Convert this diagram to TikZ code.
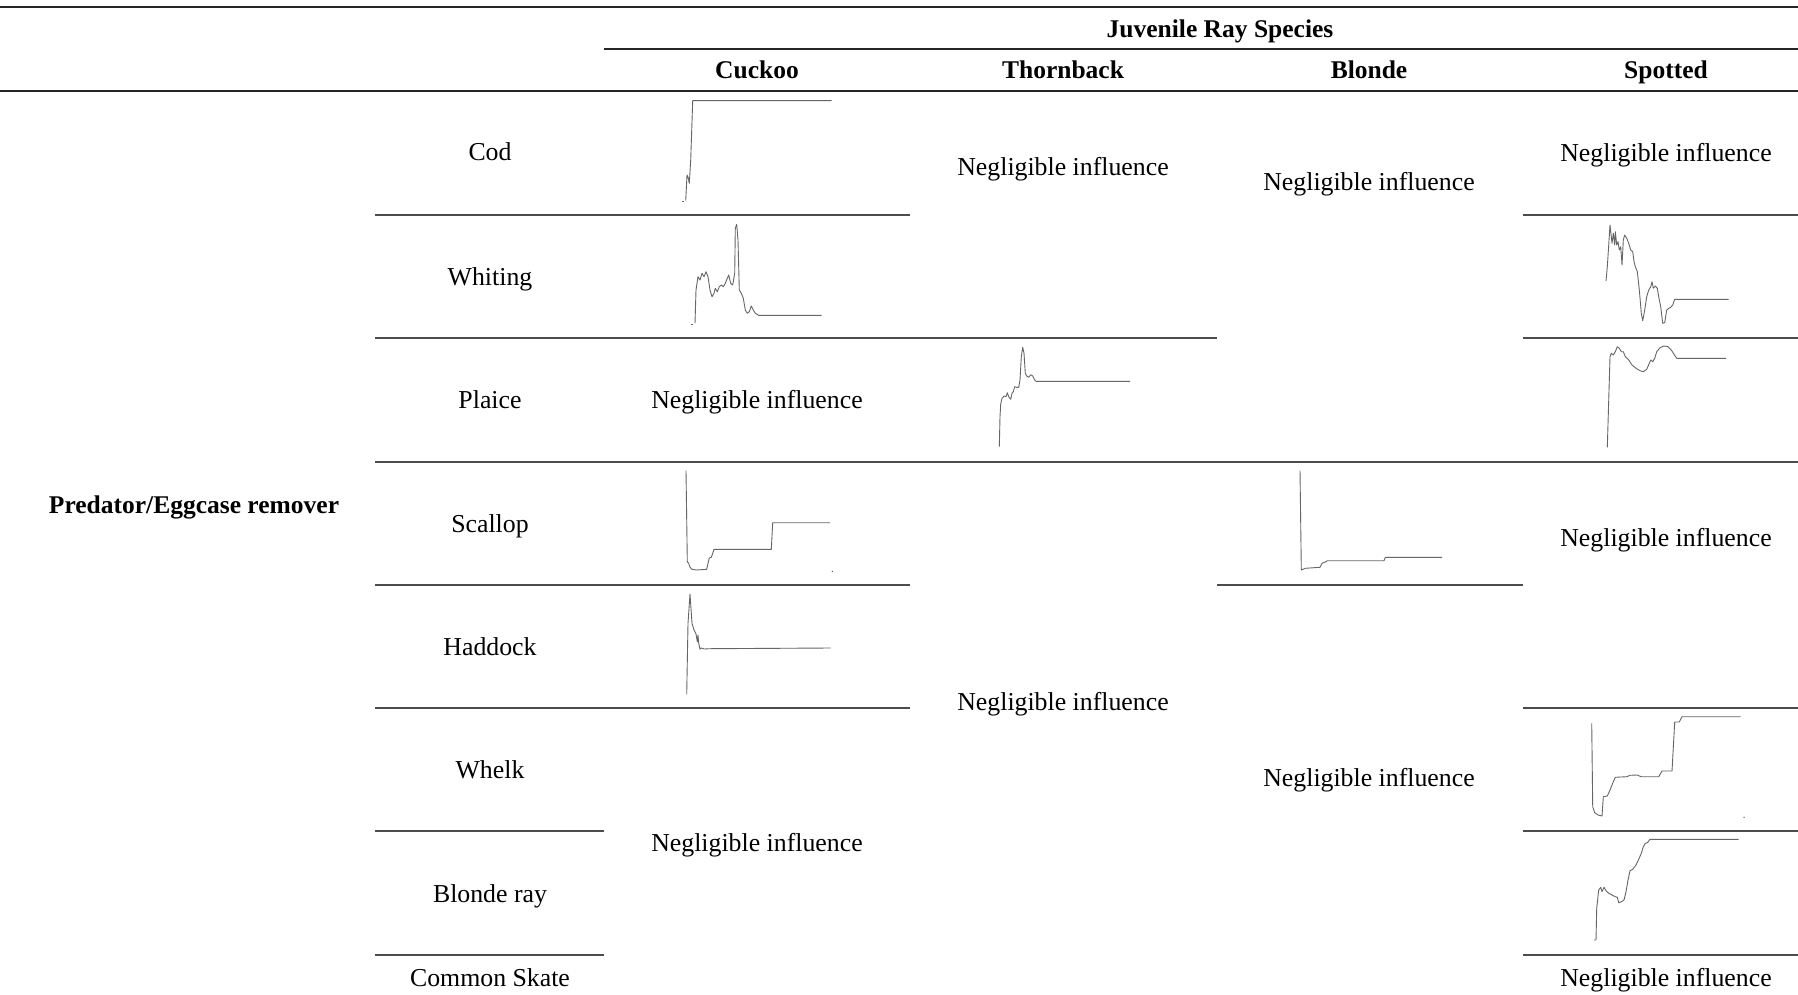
\documentclass[tikz,border=0pt]{standalone}
\usepackage{fontspec}
\setmainfont{Liberation Serif}
\begin{document}
\begin{tikzpicture}[x=1pt,y=-1pt,
  toprule/.style={line width=2.4pt,draw=black!85},
  midrule/.style={line width=1.4pt,draw=black!85},
  rowline/.style={line width=1.3pt,draw=black!70},
  plotline/.style={line width=0.9pt,draw=black!60,line join=round},
  txt/.style={font=\fontsize{25.8}{28}\selectfont,inner sep=0pt,anchor=center,text height=18pt,text depth=6pt,yshift=-3pt},
  hdr/.style={font=\fontsize{25.5}{28}\selectfont\bfseries,inner sep=0pt,anchor=center,text height=18pt,text depth=6pt,yshift=-2.5pt}]
\useasboundingbox (0,0) rectangle (1798,995);
\fill[white] (0,0) rectangle (1798,995);
% rules
\draw[toprule] (0,7) -- (1798,7);
\draw[midrule] (604,49) -- (1798,49);
\draw[midrule] (0,91) -- (1798,91);
% row lines
\draw[rowline] (375,215) -- (910,215);   \draw[rowline] (1523,215) -- (1798,215);
\draw[rowline] (375,338) -- (1217,338);  \draw[rowline] (1523,338) -- (1798,338);
\draw[rowline] (375,462) -- (1798,462);
\draw[rowline] (375,585) -- (910,585);   \draw[rowline] (1217,585) -- (1523,585);
\draw[rowline] (375,708) -- (910,708);   \draw[rowline] (1523,708) -- (1798,708);
\draw[rowline] (375,831) -- (604,831);   \draw[rowline] (1523,831) -- (1798,831);
\draw[rowline] (375,955) -- (604,955);   \draw[rowline] (1523,955) -- (1798,955);
% headers
\node[hdr] (jrs) at (1220,29) {Juvenile Ray Species};
\node[hdr] (hcuc) at (757,70) {Cuckoo};
\node[hdr] (hthb) at (1063,70) {Thornback};
\node[hdr] (hblo) at (1369,70) {Blonde};
\node[hdr] (hspo) at (1666,70) {Spotted};
\node[hdr] (pred) at (194,505) {Predator/Eggcase remover};
% row labels
\node[txt] (rcod) at (490,152) {Cod};
\node[txt] (rwhi) at (490,276) {Whiting};
\node[txt] (rpla) at (490,399) {Plaice};
\node[txt] (rsca) at (490,523) {Scallop};
\node[txt] (rhad) at (490,646) {Haddock};
\node[txt] (rwhe) at (490,769) {Whelk};
\node[txt] (rblr) at (490,893) {Blonde ray};
\node[txt] (rcom) at (490,977) {Common Skate};
% negligible influence cells
\node[txt] (n1) at (1063,167) {Negligible influence};
\node[txt] (n2) at (1369,181) {Negligible influence};
\node[txt] (n3) at (1666,153) {Negligible influence};
\node[txt] (n4) at (757,399) {Negligible influence};
\node[txt] (n5) at (1666,537) {Negligible influence};
\node[txt] (n6) at (1063,701) {Negligible influence};
\node[txt] (n7) at (1369,777) {Negligible influence};
\node[txt] (n8) at (757,842) {Negligible influence};
\node[txt] (n9) at (1666,977) {Negligible influence};
% Cuckoo - Cod
\draw[plotline] (682,201) -- (684,201);
\draw[plotline] (685.7,200.7) -- (687,175) -- (688,177) -- (689.3,183.3) -- (690.7,160) -- (692.7,100.7) -- (831.7,100.7);
% Cuckoo - Whiting
\draw[plotline] (691,324) -- (693,324);
\draw[plotline] (695,323.3) -- (696,290) -- (698,276.7) -- (700,280) -- (702,273.3) -- (704,276.7) -- (706,271.7) -- (708,276.7) -- (710,290) -- (712,296.7) -- (714,293.3) -- (715.3,288.3) -- (717.3,291.7) -- (719.3,286.7) -- (721.3,285) -- (723.3,286.7) -- (725.3,283.3) -- (727.3,278.3) -- (728.7,275) -- (730.7,283.3) -- (732.7,285) -- (734.7,273.3) -- (735.3,228.3) -- (736.7,224.3) -- (738,240) -- (739.3,290) -- (741.3,293.3) -- (743.3,298.3) -- (745.3,310) -- (747.3,313.3) -- (749.3,311.7) -- (751.3,306) -- (753.3,310) -- (755.3,313.3) -- (758.7,315.3) -- (821.7,315.3);
% Spotted - Whiting
\draw[plotline] (1606,281) -- (1607.3,266.7) -- (1610,225) -- (1612,243.3) -- (1613.3,233.3) -- (1614.7,245) -- (1615.3,231.7) -- (1616.7,245) -- (1618,241.7) -- (1619.3,250) -- (1620.7,246.7) -- (1622,265) -- (1623.3,240) -- (1624.7,235) -- (1626.7,238.3) -- (1628.7,243.3) -- (1630.7,250) -- (1632.7,251.7) -- (1634,261.7) -- (1635.3,266.7) -- (1637.3,271.7) -- (1639.3,290) -- (1641.3,313.3) -- (1642.7,320.7) -- (1644.7,310) -- (1646.7,296.7) -- (1648.7,290) -- (1650.7,286.7) -- (1652,281.7) -- (1653.3,288.3) -- (1655.3,286) -- (1657.3,288.3) -- (1658.7,296.7) -- (1660.7,306.7) -- (1662.7,323.3) -- (1664.7,322.7) -- (1666.7,310) -- (1668.7,308.3) -- (1670.7,307.3) -- (1672.7,305) -- (1674.7,299.3) -- (1728.7,299.3);
% Thornback - Plaice
\draw[plotline] (999.3,446.7) -- (1000,416.7) -- (1000.7,404) -- (1002,398.3) -- (1004,396) -- (1006,396.7) -- (1007.3,392.7) -- (1008.7,396.7) -- (1010.7,399.3) -- (1012,393.3) -- (1013.3,391.7) -- (1014.7,386.7) -- (1016.7,387.3) -- (1018.7,387.3) -- (1020,380) -- (1021.3,356.7) -- (1022.7,347.3) -- (1024,353.3) -- (1025.3,373.3) -- (1026.7,376) -- (1028.7,377.3) -- (1030.7,374.7) -- (1032.7,376) -- (1034.7,380) -- (1036,381.3) -- (1130,381.3);
% Spotted - Plaice
\draw[plotline] (1607.3,447.3) -- (1610,356.7) -- (1611.3,353.3) -- (1613.3,355) -- (1615.3,351.7) -- (1617.3,346.7) -- (1619.3,348.3) -- (1621.3,351.7) -- (1623.3,351.7) -- (1625.3,356.7) -- (1628.7,360) -- (1632,365) -- (1636,368.3) -- (1640,370.7) -- (1643.3,371.7) -- (1646.7,369.3) -- (1649.3,363.3) -- (1650.7,360) -- (1652.7,361.7) -- (1654.7,358.3) -- (1656.7,351.7) -- (1660,347.7) -- (1664,346) -- (1668,346.7) -- (1671.3,350) -- (1674,354.3) -- (1676.7,358.3) -- (1726,358.3);
% Cuckoo - Scallop
\draw[plotline] (686,470.7) -- (687.3,561.7) -- (688.7,563.3) -- (690,567.3) -- (692,569.3) -- (696.7,570) -- (706.7,569.3) -- (708,563.3) -- (709.3,558) -- (711.3,557.3) -- (712.7,553.3) -- (714,549.3) -- (771.3,549.3) -- (772.7,522.7) -- (830,522.7);
\fill[black!70] (832.3,571.3) circle (0.7);
% Blonde - Scallop
\draw[plotline] (1300,470.7) -- (1301.3,570) -- (1305.3,568.3) -- (1320,567.3) -- (1322,563.3) -- (1325.3,562) -- (1327.3,560.7) -- (1384,560.7) -- (1385.3,557.3) -- (1442,557.3);
% Cuckoo - Haddock
\draw[plotline] (686.7,694.3) -- (688,623.3) -- (690,594) -- (692,623.3) -- (694,630) -- (696,634) -- (697.3,641.7) -- (698,635) -- (698.7,643.3) -- (700,649.3) -- (701.3,648) -- (704,649) -- (710,648.7) -- (830.7,648);
% Spotted - Whelk
\draw[plotline] (1591.7,723.3) -- (1592.7,806.7) -- (1594.7,812.7) -- (1598,815) -- (1602,816) -- (1603.3,796.7) -- (1607.3,796) -- (1610,790) -- (1613.3,781.7) -- (1615.3,777.3) -- (1626.7,776.7) -- (1630,775.3) -- (1636.7,775) -- (1641.3,776.7) -- (1658.7,776.7) -- (1662,771) -- (1672,771) -- (1674.7,722) -- (1679.3,722) -- (1682,716.7) -- (1740.7,716.7);
\fill[black!70] (1744,817.3) circle (0.7);
% Spotted - Blonde ray
\draw[plotline] (1594,940) -- (1596,940) -- (1596.7,908.3) -- (1598.7,890) -- (1600.7,887.3) -- (1602,891.7) -- (1604,887.3) -- (1606,890.7) -- (1608.7,893.3) -- (1612,895) -- (1615.3,896.7) -- (1617.3,897.3) -- (1618.7,902.7) -- (1621.3,901.7) -- (1624,900) -- (1626,891.7) -- (1628,880) -- (1630,870.7) -- (1632.7,869.3) -- (1636,865) -- (1638.7,859.3) -- (1641.3,853.3) -- (1643.3,846.7) -- (1645.3,843.3) -- (1647.3,842.7) -- (1650,839.3) -- (1738.7,839.3);
\end{tikzpicture}
\end{document}
